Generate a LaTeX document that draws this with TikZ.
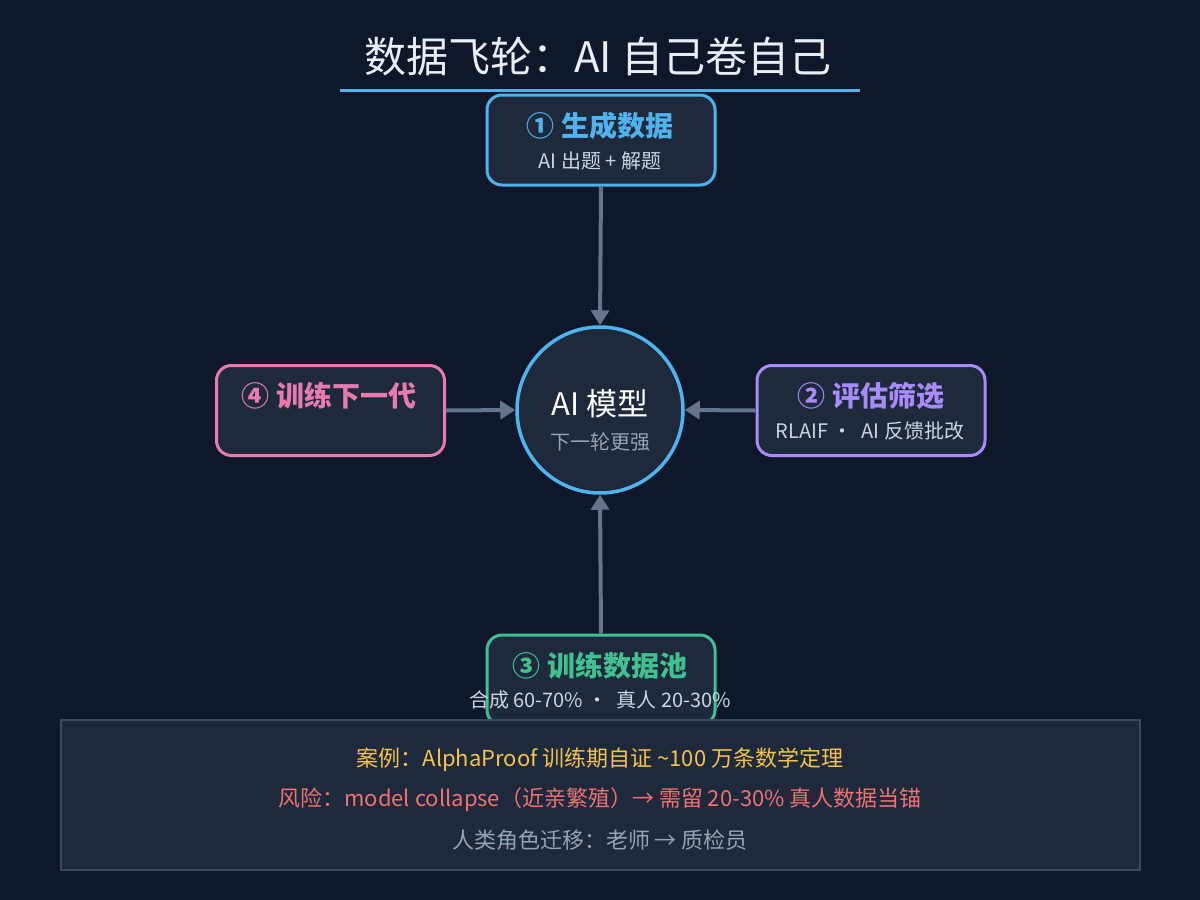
\documentclass[tikz,border=0pt]{standalone}
\usepackage{fontspec}
\setmainfont{Noto Sans CJK SC}
\usetikzlibrary{arrows.meta}
\definecolor{bg}{HTML}{0F172A}
\definecolor{panel}{HTML}{1E293B}
\definecolor{cblue}{HTML}{4FB3EE}
\definecolor{cpink}{HTML}{E87BAE}
\definecolor{cpurple}{HTML}{A78BFA}
\definecolor{cgreen}{HTML}{3FC28F}
\definecolor{arrowc}{HTML}{64748B}
\definecolor{subc}{HTML}{CBD5E1}
\definecolor{grayc}{HTML}{94A3B8}
\definecolor{titlec}{HTML}{E8EEF6}
\definecolor{cyellow}{HTML}{F5C34B}
\definecolor{cred}{HTML}{F07171}
\definecolor{panelborder}{HTML}{3A4A5E}
\tikzset{
  stagebox/.style={rounded corners=15pt, line width=3pt, fill=panel, minimum width=228pt, minimum height=90pt, inner sep=0pt},
  headtxt/.style={font=\fontsize{28}{32}\selectfont\bfseries, inner sep=0pt},
  subtxt/.style={font=\fontsize{20}{24}\selectfont, text=subc, inner sep=0pt},
  panelline/.style={font=\fontsize{22}{26}\selectfont, inner sep=0pt},
  flowarrow/.style={draw=arrowc, line width=4pt, -{Triangle[width=18pt,length=15pt]}},
}
\begin{document}
\begin{tikzpicture}[x=1pt,y=-1pt]
\fill[bg] (0,0) rectangle (1200,900);
\useasboundingbox (0,0) rectangle (1200,900);

% title
\node[font=\fontsize{42}{48}\selectfont, text=titlec, inner sep=0pt] (title) at (598,57) {数据飞轮：AI 自己卷自己};
\coordinate (ulA) at (340,90);
\coordinate (ulB) at (860,90);
\draw[cblue, line width=3pt] (ulA) -- (ulB);

% box 1
\node[stagebox, draw=cblue] (b1) at (601,140) {};
\node[headtxt, text=cblue] (b1h) at (600,126) {① 生成数据};
\node[subtxt] (b1s) at (600,161) {AI 出题 + 解题};

% model circle
\node[circle, draw=cblue, line width=3.5pt, fill=panel, minimum size=166pt, inner sep=0pt] (m) at (600,410) {};
\node[font=\fontsize{31}{36}\selectfont, text=white, inner sep=0pt] (mh) at (600,404) {AI 模型};
\node[font=\fontsize{20}{24}\selectfont, text=grayc, inner sep=0pt] (ms) at (600,442) {下一轮更强};

% box 4
\node[stagebox, draw=cpink] (b4) at (330.5,410.5) {};
\node[headtxt, text=cpink] (b4h) at (329,396) {④ 训练下一代};

% box 2
\node[stagebox, draw=cpurple] (b2) at (871,410.5) {};
\node[headtxt, text=cpurple] (b2h) at (871,396) {② 评估筛选};
\node[subtxt] (b2s) at (870,431) {RLAIF ·\ \ AI 反馈批改};

% box 3
\node[stagebox, draw=cgreen] (b3) at (601,680) {};
\node[headtxt, text=cgreen] (b3h) at (600,666) {③ 训练数据池};
\node[subtxt] (b3s) at (600,700) {合成 60-70\% ·\ \ 真人 20-30\%};

% arrows
\draw[flowarrow] (b1.south) -- (m.north);
\draw[flowarrow] (b4.east) -- (m.west);
\draw[flowarrow] (b2.west) -- (m.east);
\draw[flowarrow] (b3.north) -- (m.south);

% bottom panel
\node[draw=panelborder, line width=2pt, fill=panel, minimum width=1079pt, minimum height=150pt, inner sep=0pt] (pan) at (600.5,795) {};
\node[panelline, text=cyellow] (l1) at (600,760) {案例：AlphaProof 训练期自证 \textasciitilde 100 万条数学定理};
\node[panelline, text=cred] (l2) at (600,800) {风险：model collapse（近亲繁殖）→ 需留 20-30\% 真人数据当锚};
\node[panelline, text=grayc] (l3) at (600,840) {人类角色迁移：老师 → 质检员};
\end{tikzpicture}
\end{document}
